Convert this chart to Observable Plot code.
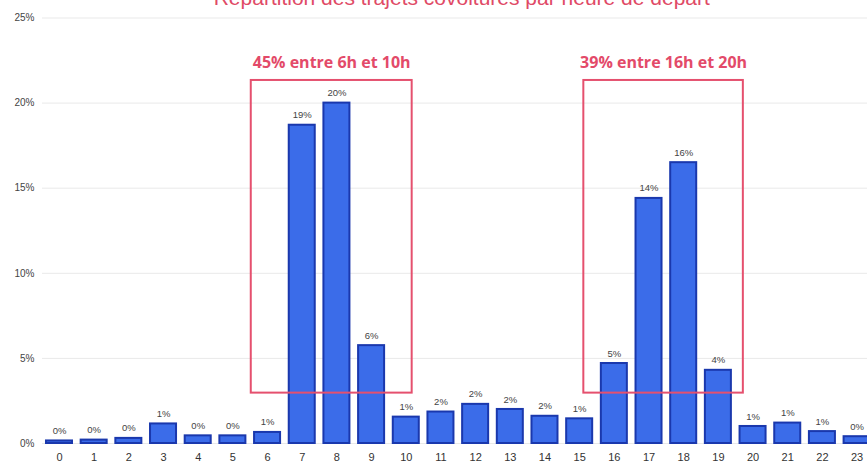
<!DOCTYPE html>
<html>
<head>
<meta charset="utf-8">
<script src="https://cdn.jsdelivr.net/npm/d3@7"></script>
<script src="https://cdn.jsdelivr.net/npm/@observablehq/plot@0.6"></script>
<style>
  html, body { margin: 0; padding: 0; background: #fff; }
  #chart { width: 867px; height: 463px; overflow: hidden; }
</style>
</head>
<body>
<div id="chart"></div>
<script>
const title = "Répartition des trajets covoiturés par heure de départ";
const hours = [0,1,2,3,4,5,6,7,8,9,10,11,12,13,14,15,16,17,18,19,20,21,22,23];
const values = [0.15,0.2,0.3,1.15,0.45,0.45,0.65,18.7,20.0,5.75,1.55,1.85,2.3,2.0,1.6,1.45,4.7,14.4,16.5,4.3,1.0,1.2,0.7,0.4];
const valueLabels = ["0%","0%","0%","1%","0%","0%","1%","19%","20%","6%","1%","2%","2%","2%","2%","1%","5%","14%","16%","4%","1%","1%","1%","0%"];
const yTicks = [0,5,10,15,20,25];
const boxLabels = ["45% entre 6h et 10h", "39% entre 16h et 20h"];
const boxFrom = [5.53, 15.12];
const boxTo = [10.17, 19.72];
const boxBottom = [2.96, 2.96];
const boxTop = [21.33, 21.33];

const data = hours.map((h, i) => ({hour: h, value: values[i], label: valueLabels[i]}));
const boxes = boxLabels.map((l, i) => ({label: l, x1: boxFrom[i], x2: boxTo[i], y1: boxBottom[i], y2: boxTop[i]}));
const halfBar = 0.375;

const chart = Plot.plot({
  width: 867,
  height: 463,
  marginLeft: 42,
  marginRight: 0,
  marginTop: 17.5,
  marginBottom: 20,
  style: {fontFamily: "'Liberation Sans', Arial, sans-serif", fontSize: "10px", background: "#fff"},
  x: {type: "linear", domain: [-0.49, 23.3]},
  y: {domain: [0, 25]},
  marks: [
    Plot.gridY({ticks: yTicks, stroke: "#e9e9e9", strokeOpacity: 1}),
    Plot.axisY({ticks: yTicks, tickFormat: d => d + "%", tickSize: 0, tickPadding: 8, fill: "#444", fontSize: 10}),
    Plot.axisX({ticks: hours, tickFormat: d => String(d), tickSize: 0, tickPadding: 10, fill: "#333", fontSize: 11}),
    Plot.rectY(data, {x1: d => d.hour - halfBar, x2: d => d.hour + halfBar, y1: 0, y2: "value", fill: "#3b6ce9", stroke: "#1a38ad", strokeWidth: 2}),
    Plot.text(data, {x: "hour", y: "value", text: "label", dy: -10, fill: "#444", fontSize: 9.5}),
    Plot.rect(boxes, {x1: "x1", x2: "x2", y1: "y1", y2: "y2", fill: "none", stroke: "#e5506e", strokeWidth: 2}),
    Plot.text(boxes, {x: d => (d.x1 + d.x2) / 2, y: "y2", text: "label", dy: -18, fill: "#e34a69", fontSize: 16, fontWeight: "bold", fontFamily: "'Open Sans', sans-serif"}),
    Plot.text([title], {frameAnchor: "top", x: 11.6, lineAnchor: "bottom", dy: -13, fill: "#e04a66", fontSize: 21, fontFamily: "'Liberation Sans', Arial, sans-serif"})
  ]
});
document.getElementById("chart").appendChild(chart);
</script>
</body>
</html>
